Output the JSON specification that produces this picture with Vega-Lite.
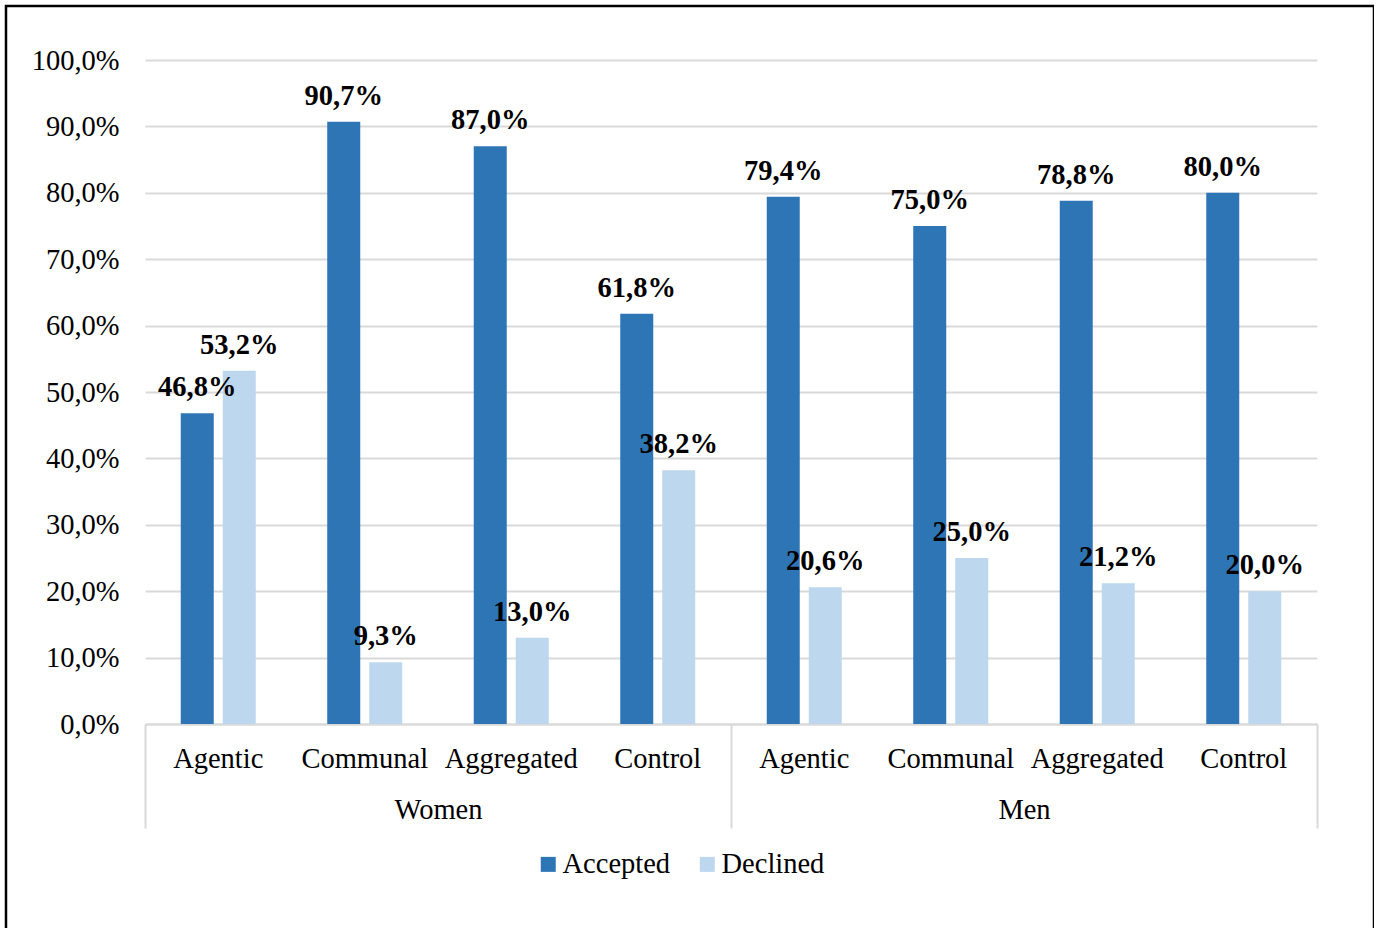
{
  "$schema": "https://vega.github.io/schema/vega-lite/v6.json",
  "width": 1368,
  "height": 930,
  "autosize": {"type": "none"},
  "padding": {"left": 6, "top": 6, "right": 0, "bottom": 0},
  "config": {
    "locale": {"number": {"decimal": ",", "thousands": ".", "grouping": [3], "currency": ["", " €"]}},
    "view": {"stroke": "#000000", "strokeWidth": 2.5},
    "font": "Liberation Serif",
    "axis": {"labelFont": "Liberation Serif", "labelFontSize": 28.5, "labelColor": "#000000", "title": null}
  },
  "data": {
    "values": [
      {"group": "Women", "condition": "Agentic", "response": "Accepted", "share": 0.468},
      {"group": "Women", "condition": "Agentic", "response": "Declined", "share": 0.532},
      {"group": "Women", "condition": "Communal", "response": "Accepted", "share": 0.907},
      {"group": "Women", "condition": "Communal", "response": "Declined", "share": 0.093},
      {"group": "Women", "condition": "Aggregated", "response": "Accepted", "share": 0.870},
      {"group": "Women", "condition": "Aggregated", "response": "Declined", "share": 0.130},
      {"group": "Women", "condition": "Control", "response": "Accepted", "share": 0.618},
      {"group": "Women", "condition": "Control", "response": "Declined", "share": 0.382},
      {"group": "Men", "condition": "Agentic", "response": "Accepted", "share": 0.794},
      {"group": "Men", "condition": "Agentic", "response": "Declined", "share": 0.206},
      {"group": "Men", "condition": "Communal", "response": "Accepted", "share": 0.750},
      {"group": "Men", "condition": "Communal", "response": "Declined", "share": 0.250},
      {"group": "Men", "condition": "Aggregated", "response": "Accepted", "share": 0.788},
      {"group": "Men", "condition": "Aggregated", "response": "Declined", "share": 0.212},
      {"group": "Men", "condition": "Control", "response": "Accepted", "share": 0.800},
      {"group": "Men", "condition": "Control", "response": "Declined", "share": 0.200}
    ]
  },
  "transform": [
    {"calculate": "datum.group + '/' + datum.condition", "as": "slot"}
  ],
  "layer": [
    {
      "encoding": {
        "x": {
          "field": "slot",
          "type": "nominal",
          "sort": null,
          "scale": {"range": [139, 1311], "paddingInner": 0, "paddingOuter": 0},
          "axis": {
            "orient": "bottom",
            "offset": -212,
            "labelExpr": "split(datum.label, '/')[1]",
            "labelAngle": 0,
            "labelBaseline": "alphabetic",
            "labelPadding": 43,
            "ticks": false,
            "domain": true,
            "domainColor": "#d9d9d9",
            "domainWidth": 2,
            "grid": false
          }
        },
        "xOffset": {
          "field": "response",
          "type": "nominal",
          "scale": {"paddingInner": 0.2143, "paddingOuter": 0.851}
        },
        "y": {
          "field": "share",
          "type": "quantitative",
          "scale": {"domain": [0, 1], "range": [718, 54], "nice": false},
          "axis": {
            "orient": "left",
            "offset": -139,
            "format": ".1%",
            "tickCount": 10,
            "ticks": false,
            "domain": false,
            "labelPadding": 26,
            "grid": true,
            "gridColor": "#d9d9d9",
            "gridWidth": 2
          }
        }
      },
      "layer": [
        {
          "mark": {"type": "bar"},
          "encoding": {
            "color": {
              "field": "response",
              "type": "nominal",
              "scale": {"domain": ["Accepted", "Declined"], "range": ["#2e75b6", "#bdd7ee"]},
              "legend": {
                "title": null,
                "orient": "none",
                "direction": "horizontal",
                "legendX": 528,
                "legendY": 844,
                "symbolType": "square",
                "symbolSize": 225,
                "symbolStrokeWidth": 0,
                "labelFont": "Liberation Serif",
                "labelFontSize": 28.5,
                "labelColor": "#000000",
                "labelOffset": 0,
                "columnPadding": 22
              }
            }
          }
        },
        {
          "mark": {
            "type": "text",
            "baseline": "alphabetic",
            "dy": -17,
            "font": "Liberation Serif",
            "fontSize": 28.5,
            "fontWeight": "bold",
            "color": "#000000"
          },
          "encoding": {
            "text": {"field": "share", "type": "quantitative", "format": ".1%"}
          }
        }
      ]
    },
    {
      "mark": {"type": "text", "opacity": 0},
      "encoding": {
        "x": {
          "field": "group",
          "type": "nominal",
          "sort": null,
          "scale": {"range": [139, 1311], "paddingInner": 0, "paddingOuter": 0},
          "axis": {
            "orient": "bottom",
            "offset": -212,
            "labelAngle": 0,
            "labelBaseline": "alphabetic",
            "labelPadding": -10,
            "domain": false,
            "ticks": true,
            "tickBand": "extent",
            "tickSize": 104,
            "tickColor": "#d9d9d9",
            "tickWidth": 2,
            "grid": false
          }
        },
        "text": {"field": "group"}
      }
    }
  ],
  "resolve": {"scale": {"x": "independent"}, "axis": {"x": "independent"}}
}
